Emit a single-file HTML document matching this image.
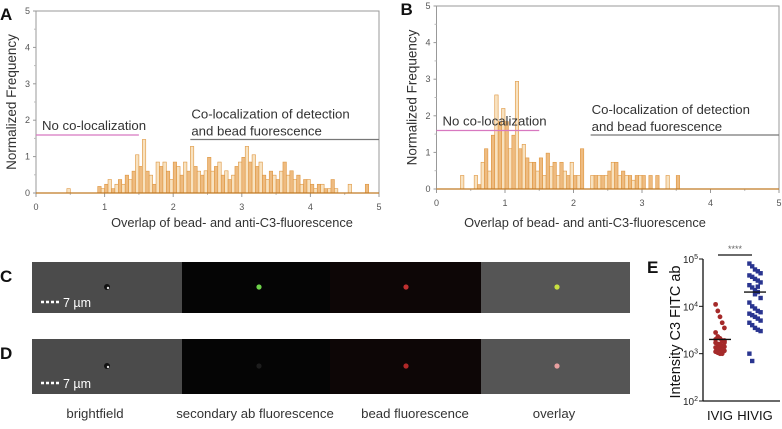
<!DOCTYPE html>
<html><head><meta charset="utf-8">
<style>
body{margin:0;background:#fff;width:782px;height:429px;overflow:hidden;font-family:"Liberation Sans",sans-serif;}
svg{display:block}
.tk{font-size:9px;fill:#555;}
.ann{font-size:13.2px;fill:#333;}
.ttl{font-size:12.8px;fill:#333;}
.lbl{font-size:17px;font-weight:bold;fill:#111;}
</style></head><body>
<svg id="fig" width="782" height="429" xmlns="http://www.w3.org/2000/svg"></svg>
<script>
const xTicks=[0,1,2,3,4,5];
const yTicks=[0,1,2,3,4,5];
const binWidth=0.05;
const histA=[0,0,0,0,0,0,0,0,0,0.12,0,0,0,0,0,0,0,0,0.18,0.12,0.24,0.37,0.12,0.24,0.37,0.24,0.49,0.37,0.6,1.05,0.73,1.47,0.6,0.49,0.24,0.85,0.73,0.85,0.6,0.37,0.85,0.73,0.49,0.85,0.6,1.28,0.73,0.6,0.49,0.61,0.98,0.6,0.73,0.85,0.49,0.61,0.37,0.49,0.73,0.85,0.98,1.28,0.85,1.05,0.73,0.85,0.49,0.37,0.6,0.49,0.37,0.6,0.85,0.49,0.61,0.37,0.49,0.24,0.37,0.37,0.24,0.12,0.24,0.24,0.12,0.12,0.37,0.12,0,0,0,0.24,0,0,0,0,0.24,0,0,0];
const histB=[0,0,0,0,0,0,0,0.37,0,0,0,0.37,0.12,0.73,1.1,0.49,1.47,2.57,1.84,2.2,1.84,1.1,1.47,2.94,1.1,1.22,0.85,0.73,0.73,0.49,0.85,0.37,0.98,0.61,0.73,0.37,0.73,0.49,0.37,0.73,0.37,0.37,1.1,0,0,0.37,0.37,0.37,0.37,0.37,0.49,0.73,0.73,0.37,0.49,0.37,0.37,0.24,0.37,0.37,0.37,0,0.37,0,0.37,0,0,0.37,0,0,0.37];
const groups=["IVIG","HIVIG"];
const ivig=[11000,8000,6000,4500,3500,2800,2300,2100,1900,1800,1700,1600,1500,1450,1400,1350,1300,1250,1200,1150,1100,1050,1000,1000,1700,2000,1300,1600,1200,1900];
const hivig=[80000,70000,60000,55000,50000,45000,42000,38000,35000,32000,28000,25000,22000,20000,15000,12000,10000,9000,8000,7500,7000,6500,6000,5500,5000,4500,4000,3500,3200,3000,1000,700,18000,26000];
const medians=[2000,20000];
const eTicks=[2,3,4,5];

const NS="http://www.w3.org/2000/svg";
const svg=document.getElementById('fig');
function mk(tag,attrs,parent,text){const e=document.createElementNS(NS,tag);for(const k in attrs)e.setAttribute(k,attrs[k]);if(text!==undefined)e.textContent=text;(parent||svg).appendChild(e);return e;}

function hist(cfg){
  const g=mk('g',{});
  
  
  const sx=v=>cfg.x0+(cfg.x1-cfg.x0)*v/5, sy=v=>cfg.y0-(cfg.y0-cfg.y1)*v/5;
  mk('path',{d:`M${cfg.x0},${cfg.y1}H${cfg.x1}V${cfg.y0}`,stroke:'#999',fill:'none','stroke-width':1},g);
  const ya=mk('line',{x1:cfg.x0,y1:cfg.y1,x2:cfg.x0,y2:cfg.y0+4,stroke:'#999'},g);
  
  const xa=mk('line',{x1:cfg.x0,y1:cfg.y0,x2:cfg.x1,y2:cfg.y0,stroke:'#999'},g);
  
  yTicks.forEach(t=>{mk('line',{x1:cfg.x0-3,x2:cfg.x0,y1:sy(t),y2:sy(t),stroke:'#999'},g);
    if(t<5)mk('line',{x1:cfg.x0-2,x2:cfg.x0,y1:sy(t+0.5),y2:sy(t+0.5),stroke:'#bbb'},g);
    const l=mk('text',{x:cfg.x0-6,y:sy(t)+3,'text-anchor':'end',class:'tk'},g,t);
    });
  xTicks.forEach(t=>{mk('line',{x1:sx(t),x2:sx(t),y1:cfg.y0,y2:cfg.y0+4,stroke:'#999'},g);
    if(t<5)mk('line',{x1:sx(t+0.5),x2:sx(t+0.5),y1:cfg.y0,y2:cfg.y0+2,stroke:'#bbb'},g);
    const l=mk('text',{x:sx(t),y:cfg.y0+17,'text-anchor':'middle',class:'tk'},g,t);
    });
  cfg.data.forEach((v,i)=>{if(v<=0)return;
    const b=mk('rect',{x:sx(i*binWidth),y:sy(v),width:sx(binWidth)-sx(0),height:sy(0)-sy(v),fill:i%2?'#f8e2c0':'#eebb80',stroke:'#de9640','stroke-width':0.6},g);
    });
  mk('line',{x1:cfg.x0,x2:cfg.x1,y1:cfg.y0,y2:cfg.y0,stroke:'#c07a25','stroke-width':1.2},g);
  const yt=mk('text',{x:0,y:0,transform:`translate(${cfg.x0-20},${(cfg.y0+cfg.y1)/2}) rotate(-90)`,'text-anchor':'middle',class:'ttl',style:'font-size:13.5px'},g,'Normalized Frequency');
  
  const xt=mk('text',{x:cfg.titleX,y:227,'text-anchor':'middle',class:'ttl'},g,'Overlap of bead- and anti-C3-fluorescence');
  
  const pl=mk('line',{x1:cfg.x0,x2:sx(1.5),y1:cfg.pinkY,y2:cfg.pinkY,stroke:'#d878c0','stroke-width':1.3},g);
  
  const pt=mk('text',{x:cfg.x0+6,y:cfg.pinkY-5,class:'ann'},g,'No co-localization');
  
  const gl=mk('line',{x1:sx(2.25),x2:cfg.x1,y1:cfg.grayY,y2:cfg.grayY,stroke:'#777','stroke-width':1.3},g);
  
  const c1=mk('text',{x:sx(2.25)+1,y:cfg.grayY-21,class:'ann'},g,'Co-localization of detection');
  
  const c2=mk('text',{x:sx(2.25)+1,y:cfg.grayY-4,class:'ann'},g,'and bead fuorescence');
  
  const pl2=mk('text',{x:cfg.x0-36,y:cfg.y1+9,class:'lbl'},g,cfg.letter);
  
}
hist({name:'histogram-a',x0:36,x1:379,y0:193,y1:11,data:histA,pinkY:135,grayY:139.5,letter:'A',titleX:232});
hist({name:'histogram-b',x0:436.5,x1:779,y0:189,y1:6,data:histB,pinkY:130.5,grayY:135,letter:'B',titleX:585});

const rows=[{y:262,h:51,l:'C',dots:['#ddd','#6dd24a','#c03030','#c8e040'],dy:287},{y:339,h:55,l:'D',dots:['#ddd','#1d1d1d','#b02828','#e8a0a0'],dy:366}];
const segs=[[32,182,'#4b4b4b'],[182,330,'#050505'],[330,481,'#0d0606'],[481,630,'#555']];
const dotX=[107,259,406,557];
rows.forEach(r=>{
  const g=mk('g',{});
  
  
  segs.forEach((s,i)=>{mk('rect',{x:s[0],y:r.y,width:s[1]-s[0],height:r.h,fill:s[2]},g);
    if(i===0){mk('circle',{cx:dotX[i],cy:r.dy,r:3,fill:'#111'},g);mk('circle',{cx:dotX[i]+1,cy:r.dy+1,r:1.2,fill:'#ddd'},g);}
    else mk('circle',{cx:dotX[i],cy:r.dy,r:2.6,fill:r.dots[i]},g);});
  mk('line',{x1:41,x2:61,y1:r.y+r.h-11,y2:r.y+r.h-11,stroke:'#fff','stroke-width':2.5,'stroke-dasharray':'3,2'},g);
  const sb=mk('text',{x:63,y:r.y+r.h-6,style:'font-size:12.5px;fill:#fff'},g,'7 µm');
  
  const pl=mk('text',{x:0,y:r.y+20,class:'lbl'},g,r.l);
  
});
[['brightfield',95],['secondary ab fluorescence',255],['bead fluorescence',415],['overlay',554]].forEach(c=>{
  const t=mk('text',{x:c[1],y:418,'text-anchor':'middle',class:'ann'},svg,c[0]);
  
});

(function(){
  const g=mk('g',{});
  
  
  const ax=703, ytop=259, ybot=401;
  const sy=v=>ybot-(Math.log10(v)-2)*(ybot-ytop)/3;
  const gx=[720,755];
  mk('line',{x1:ax,x2:ax,y1:ytop,y2:ybot,stroke:'#111','stroke-width':1.3},g);
  mk('line',{x1:ax,x2:780,y1:ybot,y2:ybot,stroke:'#111','stroke-width':1.3},g);
  eTicks.forEach(t=>{const y=sy(Math.pow(10,t));mk('line',{x1:ax-4,x2:ax,y1:y,y2:y,stroke:'#111'},g);
    const l=mk('text',{x:ax-5,y:y+4,'text-anchor':'end',style:'font-size:10px;fill:#222'},g);
    
    l.appendChild(document.createTextNode('10'));mk('tspan',{dy:-4,style:'font-size:7px'},l,String(t));});
  groups.forEach((n,i)=>{const l=mk('text',{x:gx[i],y:420,'text-anchor':'middle',style:'font-size:13px;fill:#111'},g,n);
    });
  ivig.forEach((v,i)=>{const d=mk('circle',{cx:gx[0]+((i%5)-2)*2.2,cy:sy(v),r:2.4,fill:'#a52a2a'},g);
    });
  hivig.forEach((v,i)=>{const d=mk('rect',{x:gx[1]+((i%5)-2)*2.8-2.2,y:sy(v)-2.2,width:4.4,height:4.4,fill:'#2a3590'},g);
    });
  medians.forEach((m,i)=>{const l=mk('line',{x1:gx[i]-11,x2:gx[i]+11,y1:sy(m),y2:sy(m),stroke:'#111','stroke-width':1.3},g);
    });
  mk('line',{x1:718,x2:752,y1:255,y2:255,stroke:'#111','stroke-width':1.2},g);
  const st=mk('text',{x:735,y:252,'text-anchor':'middle',style:'font-size:9px;fill:#666'},g,'****');
  
  const yt=mk('text',{x:0,y:0,transform:'translate(680,332) rotate(-90)','text-anchor':'middle',style:'font-size:14.5px;fill:#111'},g,'Intensity C3 FITC ab');
  
  const pl=mk('text',{x:647,y:273,class:'lbl'},g,'E');
  
})();
</script>
</body></html>
